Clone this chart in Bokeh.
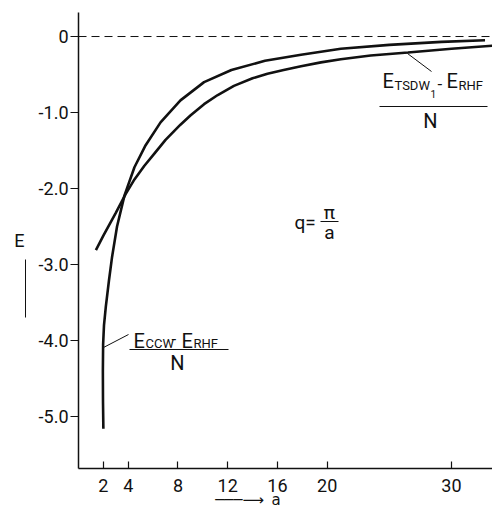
from bokeh.plotting import figure
from bokeh.models import (FixedTicker, Label, Arrow, NormalHead, Span, Range1d,
                          LinearAxis)
from bokeh.embed import file_html
from bokeh.resources import INLINE

# ---- data ----
a_ccw = [2.0, 1.97, 1.96, 1.98, 2.05, 2.2, 2.45, 2.7, 3.1, 3.7, 4.5, 5.4, 6.6,
         8.2, 10.1, 12.3, 15.0, 17.9, 21.1, 25.0, 29.2, 32.7]
E_ccw = [-5.16, -4.8, -4.4, -4.05, -3.8, -3.55, -3.21, -2.9, -2.5, -2.09, -1.72,
         -1.43, -1.13, -0.84, -0.60, -0.44, -0.32, -0.24, -0.16, -0.11, -0.07, -0.05]

a_tsdw = [1.4, 2.0, 3.0, 3.8, 4.5, 5.3, 6.1, 7.0, 8.2, 9.0, 10.1, 11.2, 12.5,
          14.0, 15.2, 16.5, 17.9, 19.5, 21.1, 23.5, 26.5, 30.0, 33.4]
E_tsdw = [-2.81, -2.62, -2.32, -2.07, -1.88, -1.70, -1.54, -1.36, -1.16, -1.04,
          -0.89, -0.77, -0.65, -0.55, -0.49, -0.44, -0.39, -0.34, -0.30, -0.25,
          -0.21, -0.16, -0.12]

x_ticks = [2, 4, 8, 12, 16, 20, 30]
y_ticks = [0, -1, -2, -3, -4, -5]
y_tick_labels = ["0", "-1.0", "-2.0", "-3.0", "-4.0", "-5.0"]

X0, X1 = 0.0, 33.3
Y0, Y1 = -5.684, 0.316

FONT = "Roboto"
INK = "#111111"
W, H = 492, 512

# frame in picture pixels: x 78..492, y 12..468
FL, FR, FT, FB = 78, 492, 12, 468

p = figure(width=W, height=H, output_backend="svg", toolbar_location=None,
           x_range=Range1d(X0, X1), y_range=Range1d(Y0, Y1),
           min_border_left=FL, min_border_right=0, min_border_top=FT,
           min_border_bottom=H - FB)
p.frame_width = FR - FL
p.frame_height = FB - FT
p.outline_line_color = None
p.grid.visible = False
p.background_fill_color = "white"
p.border_fill_color = "white"


def dx(px):
    return X0 + (px - FL) / (FR - FL) * (X1 - X0)


def dy(py):
    return Y1 - (py - FT) / (FB - FT) * (Y1 - Y0)


# axes
p.xaxis.ticker = FixedTicker(ticks=x_ticks)
p.yaxis.ticker = FixedTicker(ticks=y_ticks)
p.yaxis.major_label_overrides = {t: l for t, l in zip(y_ticks, y_tick_labels)}
for ax in (p.xaxis[0], p.yaxis[0]):
    ax.axis_line_color = INK
    ax.axis_line_width = 1.5
    ax.major_tick_line_color = INK
    ax.major_tick_line_width = 1.2
    ax.minor_tick_line_color = None
    ax.major_label_text_font = FONT
    ax.major_label_text_font_size = "18px"
    ax.major_label_text_color = INK
    ax.axis_label_text_font = FONT
    ax.axis_label_text_font_style = "normal"
    ax.axis_label_text_color = INK
p.xaxis.major_tick_in = 7
p.xaxis.major_tick_out = 0
p.xaxis.major_label_standoff = 10
p.yaxis.major_tick_in = 0
p.yaxis.major_tick_out = 8
p.yaxis.major_label_standoff = 2

# spacer label on the main y axis, so that the arrow axis sits at x ~ 25
p.yaxis.axis_label = "\u00a0"
p.yaxis.axis_label_text_font_size = "18px"
p.yaxis.axis_label_orientation = "horizontal"
p.yaxis.axis_label_standoff = 3

# x-axis title: arrow and "a"
p.xaxis.axis_label = "\u2500\u2500\u2500\u27f6\u2002a\u2003\u2003\u2003\u2003\u2003"
p.xaxis.axis_label_text_font = "DejaVu Sans"
p.xaxis.axis_label_text_font_size = "15px"
p.xaxis.axis_label_standoff = -4

# shaft of the E arrow: a bounded axis line with no ticks
shaft = LinearAxis(bounds=(dy(317), dy(260)), ticker=FixedTicker(ticks=[]),
                   axis_line_color=INK, axis_line_width=1.0,
                   major_tick_line_color=None, minor_tick_line_color=None,
                   major_label_text_font_size="0px")
p.add_layout(shaft, "left")

# "E" title
etitle = LinearAxis(ticker=FixedTicker(ticks=[]),
                    axis_line_color=None, major_tick_line_color=None,
                    minor_tick_line_color=None, major_label_text_font_size="0px",
                    axis_label="E", axis_label_orientation="horizontal",
                    axis_label_standoff=1, axis_label_text_font=FONT,
                    axis_label_text_font_size="18px",
                    axis_label_text_font_style="normal",
                    axis_label_text_color=INK)
p.add_layout(etitle, "left")

# zero line
p.add_layout(Span(location=0, dimension="width", line_color=INK,
                  line_width=1, line_dash="8 5"))

# curves
p.line(a_ccw, E_ccw, line_color=INK, line_width=2.6)
p.line(a_tsdw, E_tsdw, line_color=INK, line_width=2.6)


def lab(text, px, py, size, align="left"):
    p.add_layout(Label(x=dx(px), y=dy(py), text=text, text_font=FONT,
                       text_font_size=f"{size}px", text_color=INK,
                       text_align=align, text_baseline="middle"))


def seg(x1, y1, x2, y2, w=1.0, head=None):
    p.add_layout(Arrow(x_start=dx(x1), y_start=dy(y1), x_end=dx(x2), y_end=dy(y2),
                       line_color=INK, line_width=w, start=None, end=head))


# CCW label
lab("E", 133, 340, 20)
lab("CCW", 145, 342.5, 13)
lab("-", 171, 338, 17)
lab("E", 181, 340, 20)
lab("RHF", 193, 342.5, 13)
seg(129, 349, 228, 349, 1.2)
lab("N", 177, 362, 20, align="center")
seg(103, 347, 128, 334, 1.0)

# TSDW label
lab("E", 382, 80.5, 20)
lab("TSDW", 394, 84.5, 13)
lab("1", 430, 93, 10)
lab("-", 437, 83, 17)
lab("E", 446, 80.5, 20)
lab("RHF", 458, 84.5, 13)
seg(379, 106, 487, 106, 1.2)
lab("N", 430, 120, 20, align="center")
seg(407, 53, 431, 71, 1.0)

# q = pi / a
lab("q=", 294, 222, 19)
lab("\u03c0", 329, 212, 19, align="center")
seg(320, 221, 338, 221, 1.0)
lab("a", 329, 232, 19, align="center")

# head of the E arrow (only the head is drawn outside the frame)
seg(25, 290, 25, 259, 1.0, NormalHead(size=8, fill_color=INK, line_color=INK))

open("out.html", "w").write(file_html(p, INLINE))
